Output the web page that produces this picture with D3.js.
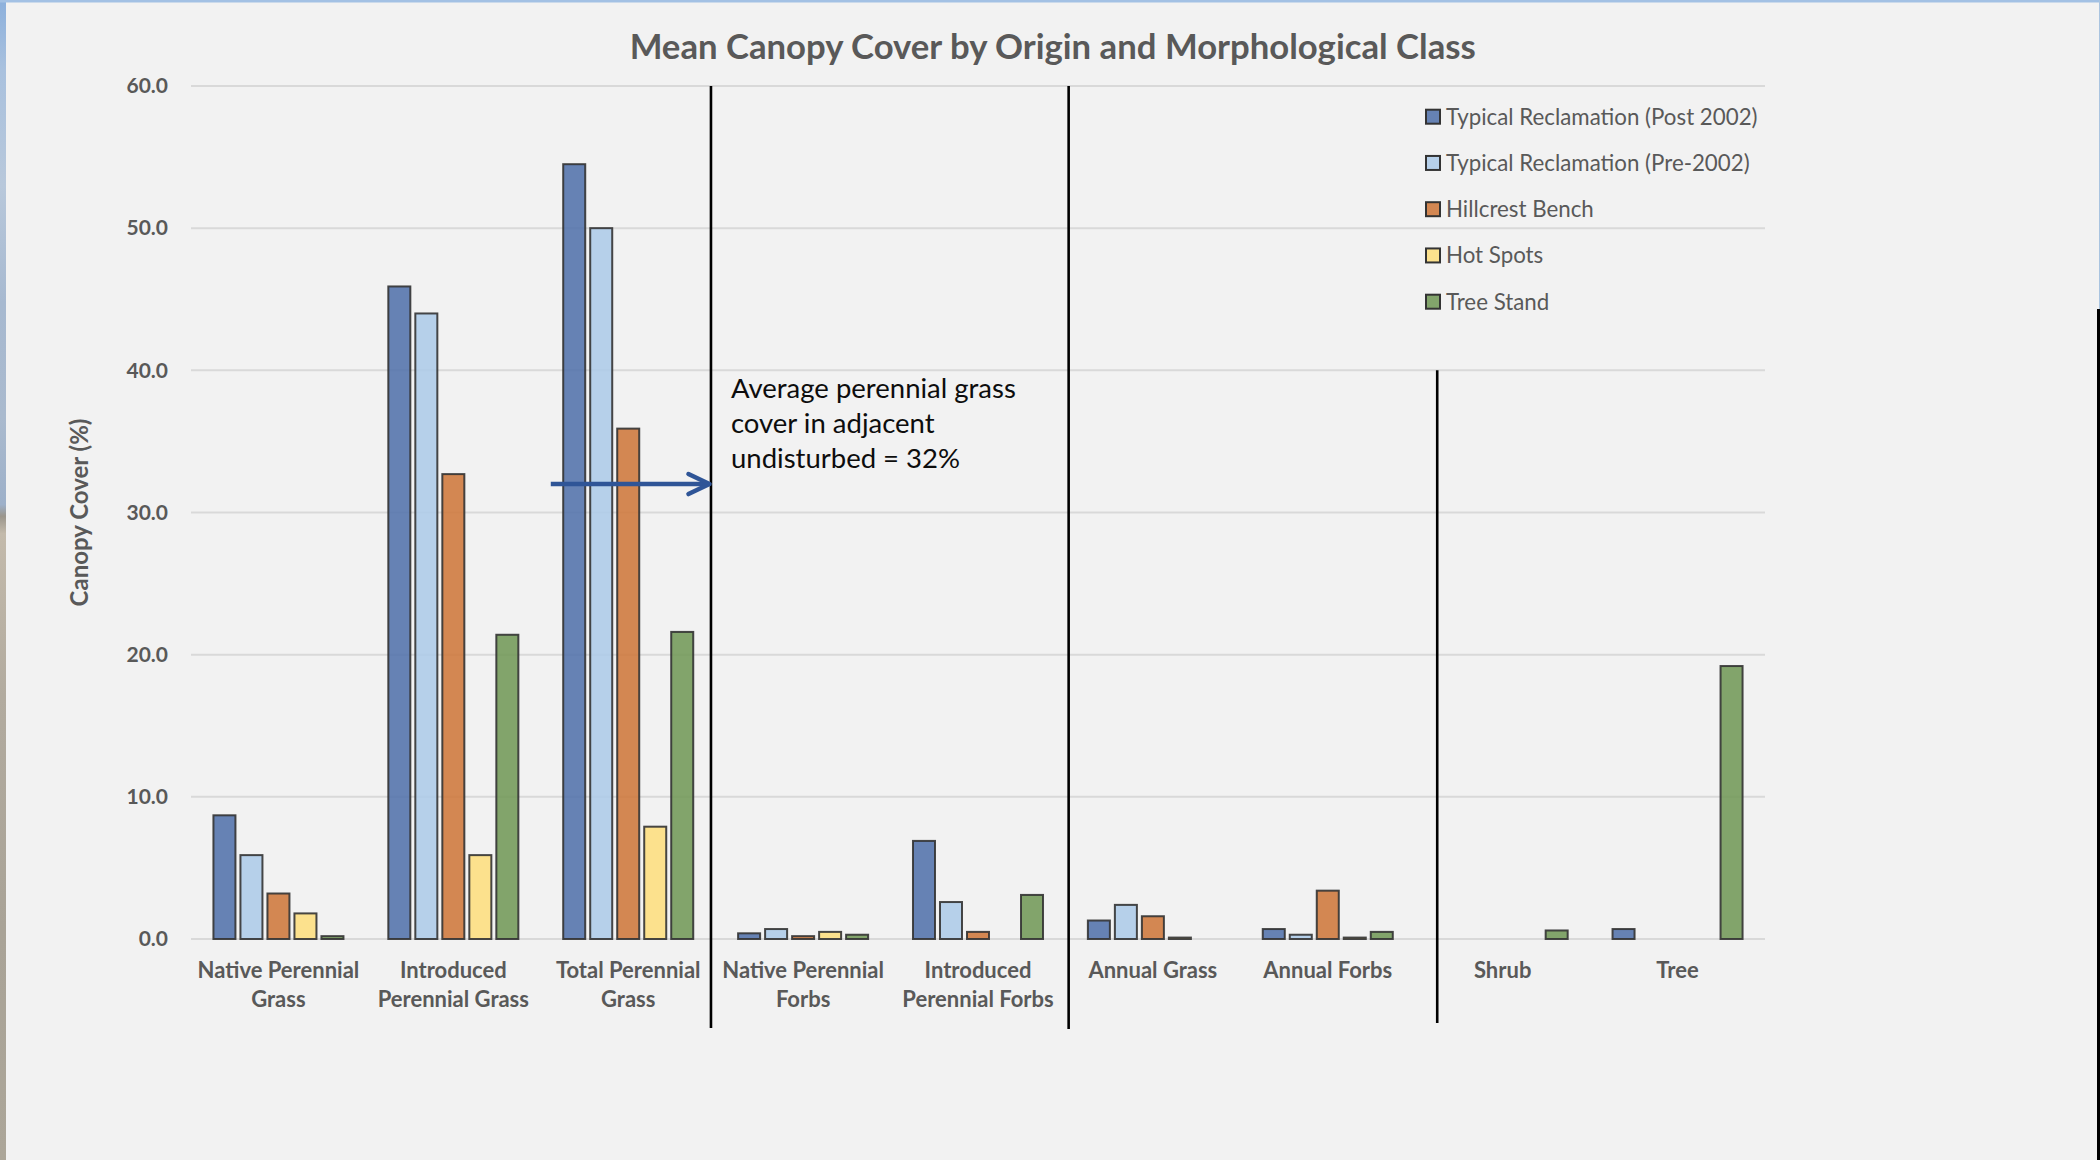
<!DOCTYPE html>
<html>
<head>
<meta charset="utf-8">
<script src="https://cdn.jsdelivr.net/npm/d3@7"></script>
<style>
  html, body { margin: 0; padding: 0; background: #f2f2f2; overflow: hidden; }
  svg { display: block; }
  text { font-family: Lato, "Open Sans", sans-serif; }
</style>
</head>
<body>
<svg id="chart" width="2100" height="1160"></svg>
<script>
// ---- data -------------------------------------------------------------
const categories = [
  "Native Perennial\nGrass", "Introduced\nPerennial Grass", "Total Perennial\nGrass",
  "Native Perennial\nForbs", "Introduced\nPerennial Forbs", "Annual Grass",
  "Annual Forbs", "Shrub", "Tree"
];
const seriesNames = [
  "Typical Reclamation (Post 2002)", "Typical Reclamation (Pre-2002)",
  "Hillcrest Bench", "Hot Spots", "Tree Stand"
];
const post2002  = [8.7, 45.9, 54.5, 0.4, 6.9, 1.3, 0.7, 0.0, 0.7];
const pre2002   = [5.9, 44.0, 50.0, 0.7, 2.6, 2.4, 0.3, 0.0, 0.0];
const hillcrest = [3.2, 32.7, 35.9, 0.2, 0.5, 1.6, 3.4, 0.0, 0.0];
const hotSpots  = [1.8, 5.9, 7.9, 0.5, 0.0, 0.1, 0.1, 0.0, 0.0];
const treeStand = [0.2, 21.4, 21.6, 0.3, 3.1, 0.0, 0.5, 0.6, 19.2];
const yTicks = [0, 10, 20, 30, 40, 50, 60];
const undisturbedCover = 32;
const noteLines = ["Average perennial grass", "cover in adjacent", "undisturbed = 32%"];
const chartTitle = "Mean Canopy Cover by Origin and Morphological Class";
const yAxisTitle = "Canopy Cover (%)";

const seriesValues = [post2002, pre2002, hillcrest, hotSpots, treeStand];

// ---- styling ----------------------------------------------------------
const seriesColors = ["#4e6fa9", "#abcae9", "#ce7436", "#fede7b", "#6e9654"];
const textGrey = "#595959";

const svg = d3.select("#chart");
const W = 2100, H = 1160;
const plot = { left: 191, right: 1765, top: 86, bottom: 939 };

// backdrop photo edges peeking around the slide
const defs = svg.append("defs");
const grad = defs.append("linearGradient").attr("id", "edgePhoto")
  .attr("x1", 0).attr("y1", 0).attr("x2", 0).attr("y2", 1);
[[0, "#8cb0dc"], [0.06, "#a9c1de"], [0.16, "#b8c8db"], [0.26, "#a7b9d0"],
 [0.36, "#aabace"], [0.435, "#9db0c9"], [0.445, "#9b968c"], [0.46, "#c3baab"],
 [0.6, "#b2ab9f"], [0.8, "#a9a397"], [1, "#aca699"]]
  .forEach(([o, c]) => grad.append("stop").attr("offset", o).attr("stop-color", c));

svg.append("rect").attr("width", W).attr("height", H).attr("fill", "#f2f2f2");
svg.append("rect").attr("x", 0).attr("y", 0).attr("width", 6).attr("height", H).attr("fill", "url(#edgePhoto)");
svg.append("rect").attr("x", 0).attr("y", 0).attr("width", W).attr("height", 2.5).attr("fill", "#a3c1e4");
svg.append("rect").attr("x", 2099).attr("y", 0).attr("width", 1).attr("height", 309).attr("fill", "#a9c4e0");
svg.append("rect").attr("x", 2097).attr("y", 309).attr("width", 3).attr("height", H - 309).attr("fill", "#000");

// ---- scales -----------------------------------------------------------
const y = d3.scaleLinear().domain([0, 60]).range([plot.bottom, plot.top]);
const x0 = d3.scaleBand().domain(categories).range([plot.left, plot.right]).padding(0);
const B = x0.bandwidth();
const groupW = B * 0.772;
const x1 = d3.scaleBand().domain(seriesNames)
  .range([(B - groupW) / 2, (B + groupW) / 2])
  .paddingInner(0.185).paddingOuter(0.0925);

// ---- gridlines & y axis ----------------------------------------------
svg.append("g").selectAll("line").data(yTicks).join("line")
  .attr("x1", plot.left).attr("x2", plot.right)
  .attr("y1", d => y(d)).attr("y2", d => y(d))
  .attr("stroke", "#d9d9d9").attr("stroke-width", 2);

const yAxis = svg.append("g").attr("transform", `translate(${plot.left},0)`)
  .call(d3.axisLeft(y).tickValues(yTicks).tickFormat(d3.format(".1f")).tickSize(0).tickPadding(23));
yAxis.select(".domain").remove();
yAxis.selectAll("text")
  .attr("fill", textGrey).attr("font-size", 21).attr("font-weight", 700)
  .style("font-family", "Lato, 'Open Sans', sans-serif");

svg.append("text")
  .attr("transform", `translate(80,${(plot.top + plot.bottom) / 2}) rotate(-90)`)
  .attr("text-anchor", "middle").attr("dy", "0.35em")
  .attr("fill", textGrey).attr("font-size", 24).attr("font-weight", 700)
  .text(yAxisTitle);

// ---- bars -------------------------------------------------------------
const bars = [];
seriesNames.forEach((s, si) => {
  categories.forEach((c, ci) => {
    const v = seriesValues[si][ci];
    if (v > 0) bars.push({ s, si, c, v });
  });
});
svg.append("g").selectAll("rect").data(bars).join("rect")
  .attr("x", d => x0(d.c) + x1(d.s))
  .attr("width", x1.bandwidth())
  .attr("y", d => y(d.v))
  .attr("height", d => y(0) - y(d.v))
  .attr("fill", d => seriesColors[d.si]).attr("fill-opacity", 0.85)
  .attr("stroke", "#333").attr("stroke-opacity", 0.9).attr("stroke-width", 2);

// ---- category labels --------------------------------------------------
const catLabels = svg.append("g").selectAll("text").data(categories).join("text")
  .attr("x", d => x0(d) + B / 2).attr("y", 978)
  .attr("text-anchor", "middle").attr("fill", textGrey)
  .attr("font-size", 22).attr("font-weight", 700);
catLabels.each(function (d) {
  d3.select(this).selectAll("tspan").data(d.split("\n")).join("tspan")
    .attr("x", x0(d) + B / 2).attr("dy", (l, i) => i === 0 ? 0 : 29).text(l => l);
});

// ---- group dividers ---------------------------------------------------
const dividers = [
  { x: x0(categories[3]) - 4.7, top: y(60), bottom: 1028 },
  { x: x0(categories[5]) + 3.2, top: y(60), bottom: 1029 },
  { x: x0(categories[7]) + 22,  top: y(40), bottom: 1023 }
];
svg.append("g").selectAll("line").data(dividers).join("line")
  .attr("x1", d => d.x).attr("x2", d => d.x)
  .attr("y1", d => d.top).attr("y2", d => d.bottom)
  .attr("stroke", "#000").attr("stroke-width", 2.6);

// ---- undisturbed reference arrow & note -------------------------------
const ay = y(undisturbedCover);
const ax0 = x0(categories[2]) + 10;
const ax1 = dividers[0].x - 1.5;
const arrow = svg.append("g").attr("stroke", "#2f5597").attr("stroke-width", 4.5)
  .attr("fill", "none").attr("stroke-linecap", "round").attr("stroke-linejoin", "round");
arrow.append("line").attr("x1", ax0).attr("x2", ax1 - 1).attr("y1", ay).attr("y2", ay).attr("stroke-linecap", "butt");
arrow.append("path").attr("d", `M${ax1 - 21},${ay - 10} L${ax1},${ay} L${ax1 - 21},${ay + 10}`);

svg.append("g").selectAll("text").data(noteLines).join("text")
  .attr("x", dividers[0].x + 20).attr("y", (d, i) => 398 + i * 35)
  .attr("fill", "#0d0d0d").attr("font-size", 27.5)
  .text(d => d);

// ---- title ------------------------------------------------------------
svg.append("text").attr("x", 1052.7).attr("y", 59)
  .attr("text-anchor", "middle").attr("fill", textGrey)
  .attr("font-size", 34.7).attr("font-weight", 700)
  .text(chartTitle);

// ---- legend -----------------------------------------------------------
const legend = svg.append("g").selectAll("g").data(seriesNames).join("g")
  .attr("transform", (d, i) => `translate(1426,${116.7 + i * 46.25})`);
legend.append("rect").attr("x", 0).attr("y", -7).attr("width", 14).attr("height", 14)
  .attr("fill", (d, i) => seriesColors[i]).attr("fill-opacity", 0.85)
  .attr("stroke", "#333").attr("stroke-width", 2);
legend.append("text").attr("x", 20).attr("dy", "0.35em")
  .attr("fill", textGrey).attr("font-size", 22.3)
  .text(d => d);
</script>
</body>
</html>
